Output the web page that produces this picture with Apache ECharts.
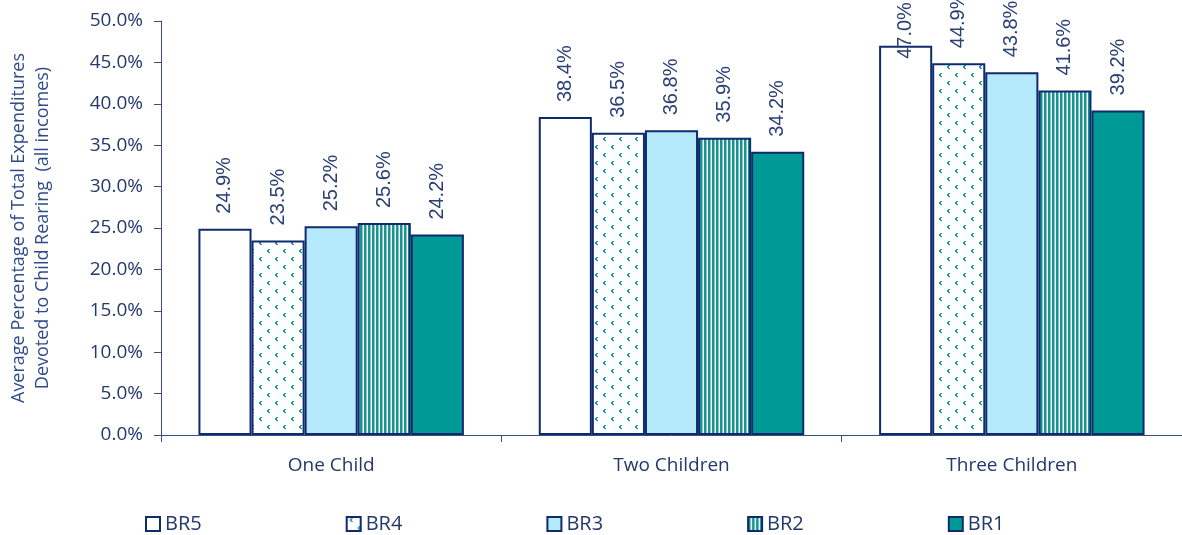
<!DOCTYPE html>
<html>
<head>
<meta charset="utf-8">
<style>
  html, body { margin: 0; padding: 0; background: #ffffff; }
  #chart { width: 1182px; height: 535px; }
</style>
<script src="https://cdn.jsdelivr.net/npm/echarts@6/dist/echarts.min.js"></script>
</head>
<body>
<div id="chart"></div>
<script>
// Share of total household expenditures devoted to child rearing, by family size
const categories = ['One Child', 'Two Children', 'Three Children'];
const seriesNames = ['BR5', 'BR4', 'BR3', 'BR2', 'BR1'];
const br5 = [24.9, 38.4, 47.0];
const br4 = [23.5, 36.5, 44.9];
const br3 = [25.2, 36.8, 43.8];
const br2 = [25.6, 35.9, 41.6];
const br1 = [24.2, 34.2, 39.2];
const yTicks = [0, 5, 10, 15, 20, 25, 30, 35, 40, 45, 50];

const NAVY = '#0f2b6e';
const TEAL = '#009a96';
const TEXT = '#23386b';

// Sparse teal chevron pattern tile
function dotTile() {
  const c = document.createElement('canvas');
  c.width = 16; c.height = 16;
  const g = c.getContext('2d');
  g.fillStyle = '#ffffff';
  g.fillRect(0, 0, 16, 16);
  g.fillStyle = '#1c9f9b';
  const marks = [[3, 1], [11, 9]];
  marks.forEach(([x, y]) => {
    g.fillRect(x + 1, y, 2, 1);
    g.fillRect(x, y + 1, 2, 2);
    g.fillRect(x + 1, y + 3, 2, 1);
  });
  return c;
}
// Vertical teal stripe tile
function stripeTile() {
  const c = document.createElement('canvas');
  c.width = 4; c.height = 4;
  const g = c.getContext('2d');
  g.fillStyle = '#ffffff';
  g.fillRect(0, 0, 4, 4);
  g.fillStyle = '#17948f';
  g.fillRect(0, 0, 2, 4);
  g.fillStyle = '#7fc9c6';
  g.fillRect(2, 0, 1, 4);
  return c;
}

const fills = [
  '#ffffff',
  { image: dotTile(), repeat: 'repeat' },
  '#b5eafc',
  { image: stripeTile(), repeat: 'repeat' },
  TEAL
];
const values = [br5, br4, br3, br2, br1];

const labelBase = {
  show: true,
  position: 'top',
  rotate: 90,
  align: 'left',
  verticalAlign: 'middle',
  distance: 15,
  fontFamily: 'Liberation Sans, Arial, sans-serif',
  fontSize: 20,
  color: '#2b4075',
  formatter: p => p.value.toFixed(1) + '%'
};

const series = seriesNames.map((name, i) => ({
  name: name,
  type: 'bar',
  barGap: '0%',
  barCategoryGap: '22%',
  itemStyle: { color: fills[i], borderColor: NAVY, borderWidth: 2 },
  label: labelBase,
  data: values[i].map(v => {
    // the tallest label would run off the top, so it is pulled down onto the bar
    if (v > 46) return { value: v, label: { offset: [-28, 0] } };
    return v;
  })
}));

const chart = echarts.init(document.getElementById('chart'));
chart.setOption({
  animation: false,
  backgroundColor: '#ffffff',
  grid: { left: 161, right: 0, top: 21, bottom: 100, outerBoundsMode: 'none' },
  legend: {
    data: seriesNames,
    left: 145,
    top: 514,
    padding: 0,
    icon: 'rect',
    itemWidth: 14,
    itemHeight: 14,
    itemGap: 144,
    textStyle: { fontFamily: 'Open Sans, sans-serif', fontSize: 20, lineHeight: 20, color: TEXT }
  },
  xAxis: {
    type: 'category',
    data: categories,
    axisLine: { lineStyle: { color: '#3a4f80', width: 1 } },
    axisTick: { show: true, length: 7, lineStyle: { color: '#3a4f80' } },
    axisLabel: { margin: 21, fontFamily: 'Open Sans, sans-serif', fontSize: 19, color: TEXT }
  },
  yAxis: {
    type: 'value',
    min: 0,
    max: 50,
    interval: 5,
    splitLine: { show: false },
    axisLine: { show: true, lineStyle: { color: '#3a4f80', width: 1 } },
    axisTick: { show: true, length: 7, lineStyle: { color: '#3a4f80' } },
    axisLabel: {
      margin: 18,
      fontFamily: 'Open Sans, sans-serif',
      fontSize: 19,
      color: TEXT,
      formatter: v => yTicks.includes(v) ? v.toFixed(1) + '%' : ''
    },
    name: 'Average Percentage of Total Expenditures\nDevoted to Child Rearing  (all incomes)',
    nameLocation: 'middle',
    nameRotate: 90,
    nameGap: 106,
    nameTextStyle: { fontFamily: 'Open Sans, sans-serif', fontSize: 18, color: '#2f4b8a', lineHeight: 24 }
  },
  series: series
});
</script>
</body>
</html>
